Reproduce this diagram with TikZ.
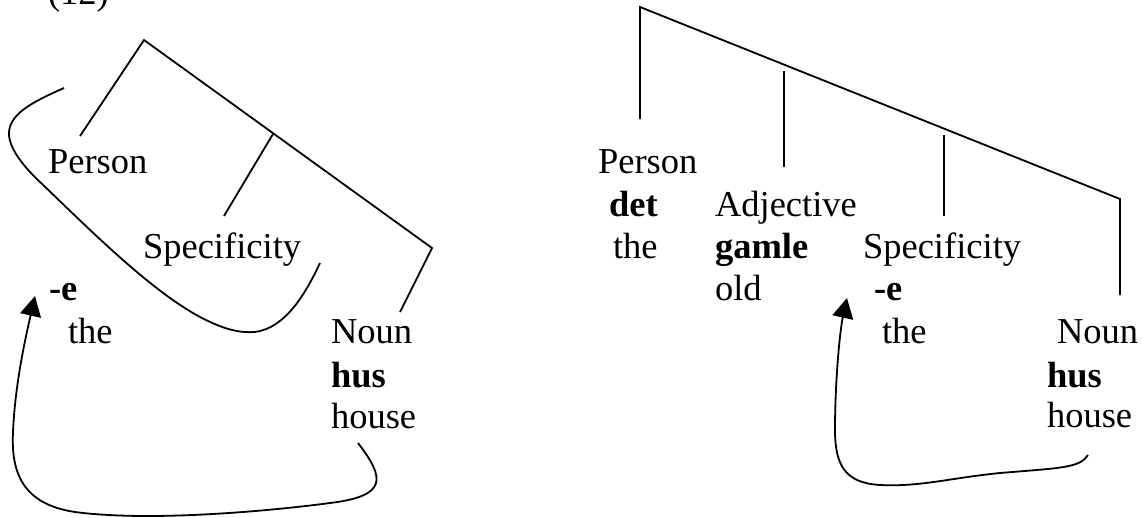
\documentclass[tikz,border=0pt]{standalone}
\usepackage{fontspec}
\setmainfont{Liberation Serif}
\usetikzlibrary{arrows.meta}
\tikzset{
  lbl/.style={anchor=base west, inner sep=0pt, outer sep=0pt, font=\fontsize{36.5}{42}\selectfont},
  blbl/.style={lbl, font=\fontsize{36.5}{42}\selectfont\bfseries},
  branch/.style={line width=1.8pt, line cap=butt, line join=miter},
  curve/.style={line width=1.8pt},
  move/.style={curve, -{Triangle[width=21pt,length=20pt]}}
}
\begin{document}
\begin{tikzpicture}[x=1pt,y=-1pt]
\clip (0,0) rectangle (1143,517);
\fill[white] (0,0) rectangle (1143,517);

% ---- left tree ----
\node[lbl] (l12) at (48,4) {(12)};
\node[lbl] (lperson) at (48,173) {Person};
\node[lbl] (lspec) at (143,258) {Specificity};
\node[blbl] (le) at (49,300) {-e};
\node[lbl] (lthe) at (68,343) {the};
\node[lbl] (lnoun) at (331,343) {Noun};
\node[blbl] (lhus) at (331,387) {hus};
\node[lbl] (lhouse) at (331,428) {house};

\coordinate (lapex) at (144,40);
\coordinate (lpend) at (80,136);
\coordinate (lcorner) at (432,248);
\coordinate (lnend) at (400,312);
\coordinate (lmid) at (273,134);
\coordinate (lsend) at (224,216);
\draw[branch] (lpend) -- (lapex) -- (lcorner) -- (lnend);
\draw[branch] (lmid) -- (lsend);

% bracket round Person + Specificity
\coordinate (lbr1) at (64,88);
\coordinate (lbr2) at (320,263);
\draw[curve] (lbr1) .. controls (30,103) and (8,115) .. (9,135)
  .. controls (10,150) and (25,168) .. (40,182)
  .. controls (90,230) and (150,290) .. (200,317)
  .. controls (225,330) and (240,333) .. (255,332)
  .. controls (285,328) and (305,295) .. (lbr2);

% movement arrow
\coordinate (lfrom) at (358,443);
\coordinate (lto) at (35,296);
\draw[move] (lfrom) .. controls (385,478) and (388,496) .. (330,503)
  .. controls (270,511) and (150,522) .. (75,512)
  .. controls (22,504) and (11,472) .. (13,432)
  .. controls (15,385) and (25,340) .. (lto);

% ---- right tree ----
\node[lbl] (rperson) at (598,173) {Person};
\node[blbl] (rdet) at (609,216) {det};
\node[lbl] (rthe1) at (613,258) {the};
\node[lbl] (radj) at (715,216) {Adjective};
\node[blbl] (rgamle) at (715,258) {gamle};
\node[lbl] (rold) at (715,300) {old};
\node[lbl] (rspec) at (863,258) {Specificity};
\node[blbl] (re) at (874,300) {-e};
\node[lbl] (rthe2) at (882,343) {the};
\node[lbl] (rnoun) at (1057,343) {Noun};
\node[blbl] (rhus) at (1047,387) {hus};
\node[lbl] (rhouse) at (1047,427) {house};

\coordinate (rapex) at (640,7);
\coordinate (rpend) at (640,119);
\coordinate (rcorner) at (1120,199);
\coordinate (rnend) at (1120,295);
\coordinate (radjtop) at (784,71);
\coordinate (radjend) at (784,167);
\coordinate (rspectop) at (944,135);
\coordinate (rspecend) at (944,216);
\draw[branch] (rpend) -- (rapex) -- (rcorner) -- (rnend);
\draw[branch] (radjtop) -- (radjend);
\draw[branch] (rspectop) -- (rspecend);

% movement arrow
\coordinate (rfrom) at (1088,455);
\coordinate (rto) at (847,298);
\draw[move] (rfrom) .. controls (1080,468) and (1060,468) .. (1000,473)
  .. controls (950,478) and (920,487) .. (880,485)
  .. controls (845,483) and (835,465) .. (835,430)
  .. controls (835,380) and (840,330) .. (rto);
\end{tikzpicture}
\end{document}
